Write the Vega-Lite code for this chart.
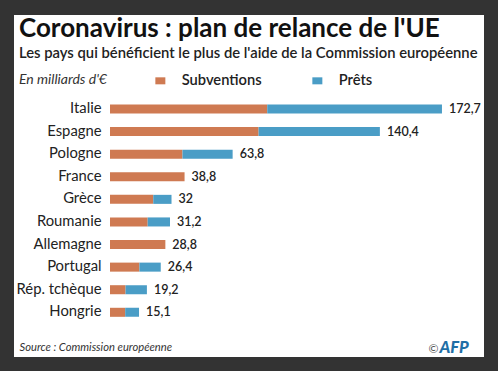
{
  "$schema": "https://vega.github.io/schema/vega-lite/v6.json",
  "width": 470,
  "height": 342,
  "autosize": "none",
  "padding": {"left": 14, "top": 15, "right": 14, "bottom": 14},
  "background": "#333333",
  "title": {
    "text": "Coronavirus : plan de relance de l'UE",
    "subtitle": "Les pays qui bénéficient le plus de l'aide de la Commission européenne",
    "anchor": "start",
    "frame": "group",
    "offset": -46.1,
    "dx": 5,
    "font": "Lato",
    "fontSize": 26,
    "fontWeight": "bold",
    "color": "#111111",
    "subtitleFont": "Lato",
    "subtitleFontSize": 14.8,
    "subtitleFontWeight": 600,
    "subtitleColor": "#222222",
    "subtitlePadding": 4
  },
  "data": {
    "values": [
      {"pays": "Italie", "type": "Subventions", "valeur": 81.8},
      {"pays": "Italie", "type": "Prêts", "valeur": 90.9},
      {"pays": "Espagne", "type": "Subventions", "valeur": 77.3},
      {"pays": "Espagne", "type": "Prêts", "valeur": 63.1},
      {"pays": "Pologne", "type": "Subventions", "valeur": 37.7},
      {"pays": "Pologne", "type": "Prêts", "valeur": 26.1},
      {"pays": "France", "type": "Subventions", "valeur": 38.8},
      {"pays": "Grèce", "type": "Subventions", "valeur": 22.5},
      {"pays": "Grèce", "type": "Prêts", "valeur": 9.5},
      {"pays": "Roumanie", "type": "Subventions", "valeur": 19.6},
      {"pays": "Roumanie", "type": "Prêts", "valeur": 11.6},
      {"pays": "Allemagne", "type": "Subventions", "valeur": 28.8},
      {"pays": "Portugal", "type": "Subventions", "valeur": 15.3},
      {"pays": "Portugal", "type": "Prêts", "valeur": 11.1},
      {"pays": "Rép. tchèque", "type": "Subventions", "valeur": 8.1},
      {"pays": "Rép. tchèque", "type": "Prêts", "valeur": 11.1},
      {"pays": "Hongrie", "type": "Subventions", "valeur": 7.9},
      {"pays": "Hongrie", "type": "Prêts", "valeur": 7.2}
    ]
  },
  "layer": [
    {
      "mark": {"type": "bar", "strokeWidth": 0},
      "encoding": {
        "y": {
          "field": "pays",
          "type": "nominal",
          "sort": ["Italie", "Espagne", "Pologne", "France", "Grèce", "Roumanie", "Allemagne", "Portugal", "Rép. tchèque", "Hongrie"],
          "scale": {"range": [82.7, 308.6], "paddingInner": 0.6, "paddingOuter": 0.3},
          "axis": {
            "orient": "left",
            "offset": -92,
            "domain": false,
            "ticks": false,
            "labelPadding": 5,
            "labelFont": "Lato",
            "labelFontSize": 14.8,
            "labelColor": "#222222",
            "title": null
          }
        },
        "x": {
          "field": "valeur",
          "type": "quantitative",
          "aggregate": "sum",
          "stack": "zero",
          "scale": {"domain": [0, 180], "range": [96, 442], "nice": false},
          "axis": {
            "orient": "bottom",
            "domain": false,
            "ticks": false,
            "labels": false,
            "grid": false,
            "title": "Source : Commission européenne",
            "titleAnchor": "start",
            "titleAlign": "left",
            "titleBaseline": "alphabetic",
            "titleX": 5,
            "titleY": -6.5,
            "titleFont": "Lato",
            "titleFontSize": 11.2,
            "titleFontStyle": "italic",
            "titleFontWeight": "normal",
            "titleColor": "#333333"
          }
        },
        "color": {
          "field": "type",
          "type": "nominal",
          "scale": {"domain": ["Subventions", "Prêts"], "range": ["#cf7a52", "#4a9dc6"]},
          "legend": {
            "orient": "none",
            "legendX": 5,
            "legendY": 58,
            "direction": "horizontal",
            "title": "En milliards d'€",
            "titleOrient": "left",
            "titlePadding": 46,
            "titleFont": "Lato",
            "titleFontSize": 14,
            "titleFontStyle": "italic",
            "titleFontWeight": "normal",
            "titleColor": "#333333",
            "labelFont": "Lato",
            "labelFontSize": 14.7,
            "labelFontWeight": 600,
            "labelColor": "#222222",
            "labelOffset": 14,
            "columnPadding": 48,
            "symbolType": "M-1,-0.7H1V0.7H-1Z",
            "symbolSize": 100,
            "symbolStrokeWidth": 0
          }
        },
        "order": {"field": "type", "sort": "descending"}
      }
    },
    {
      "mark": {"type": "text", "align": "left", "baseline": "middle", "dx": 7, "font": "Lato", "fontSize": 12.5, "fontWeight": 600, "color": "#222222"},
      "encoding": {
        "y": {
          "field": "pays",
          "type": "nominal",
          "sort": ["Italie", "Espagne", "Pologne", "France", "Grèce", "Roumanie", "Allemagne", "Portugal", "Rép. tchèque", "Hongrie"],
          "axis": {
            "orient": "right",
            "domain": false,
            "ticks": false,
            "labels": false,
            "title": "AFP",
            "titleAngle": 0,
            "titleAlign": "left",
            "titleBaseline": "alphabetic",
            "titleX": -45,
            "titleY": 337,
            "titleFont": "Lato",
            "titleFontSize": 16.5,
            "titleFontStyle": "italic",
            "titleFontWeight": 900,
            "titleColor": "#1f6fa6"
          }
        },
        "x": {
          "field": "valeur",
          "type": "quantitative",
          "aggregate": "sum",
          "axis": {
            "orient": "top",
            "domain": false,
            "ticks": false,
            "labels": false,
            "grid": false,
            "title": "©",
            "titleAlign": "left",
            "titleBaseline": "alphabetic",
            "titleX": 414,
            "titleY": 337,
            "titleFont": "Lato",
            "titleFontSize": 12,
            "titleFontWeight": "normal",
            "titleColor": "#555555"
          }
        },
        "text": {"field": "valeur", "type": "quantitative", "aggregate": "sum", "format": "~g"}
      }
    }
  ],
  "resolve": {"axis": {"x": "independent", "y": "independent"}},
  "config": {
    "view": {"fill": "white", "stroke": null},
    "axis": {"grid": false},
    "locale": {"number": {"decimal": ",", "thousands": " ", "grouping": [3], "currency": ["", " €"]}}
  }
}
